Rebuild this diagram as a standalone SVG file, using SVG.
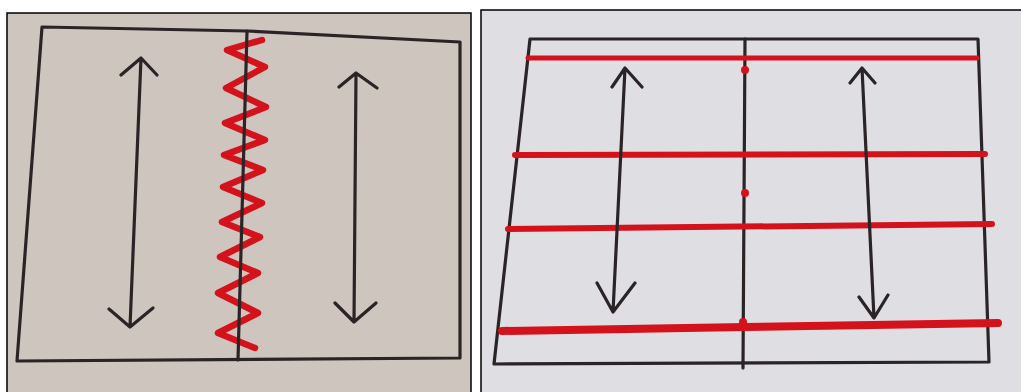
<svg xmlns="http://www.w3.org/2000/svg" width="1021" height="392" viewBox="0 0 1021 392">
<style>
.ink{fill:none;stroke:#2b2427;stroke-width:3.2;stroke-linecap:round;stroke-linejoin:round}
.red{fill:none;stroke:#d3121c;stroke-linecap:round;stroke-linejoin:round}
.frame{stroke:#000;stroke-width:1.5}
</style>
<rect width="1021" height="392" fill="#ffffff"/>
<g id="left-photo">
<rect class="frame" x="7" y="13" width="464" height="385" fill="#cfc5bf"/>
<path class="ink" d="M42,27 L247,31 L460,42 L460,358 L17,361 Z"/>
<path class="red" stroke-width="6.5" stroke="#cc1620" d="M262,40 L227,50 L265,67 L226,88 L266,107 L225,123 L265,140 L224,155 L263,170 L223,187 L262,203 L222,222 L260,237 L220,257 L258,273 L218,293 L258,313 L218,333 L255,348"/>
<path class="ink" d="M247,31 L238,360"/>
<path class="ink" d="M141,58 L130,327 M121,75 L141,58 L157,75 M109,309 L130,327 L153,308"/>
<path class="ink" d="M356,73 L354,322 M339,87 L356,73 L377,88 M335,303 L354,322 L376,303"/>
</g>
<g id="right-photo">
<rect class="frame" x="481" y="10" width="545" height="390" fill="#dedee3"/>
<path class="ink" d="M530,39 L978,39 L989,362 L494,364 Z"/>
<path class="ink" d="M745,39 L743,368"/>
<path class="red" stroke-width="5" d="M528,58 L977,58"/>
<path class="red" stroke-width="6" d="M515,155 L985,154"/>
<path class="red" stroke-width="6" d="M508,229 L992,224"/>
<path class="red" stroke-width="8" d="M502,331 L745,327 L998,323"/>
<circle cx="745" cy="70" r="4" fill="#d3121c"/>
<circle cx="745" cy="193" r="4" fill="#d3121c"/>
<circle cx="743" cy="322" r="4" fill="#d3121c"/>
<path class="ink" d="M625,68 L613,312 M612,87 L625,68 L642,87 M597,283 L613,312 L635,283"/>
<path class="ink" d="M862,68 L874,318 M850,83 L862,68 L875,83 M859,297 L874,318 L888,295"/>
</g>
</svg>
